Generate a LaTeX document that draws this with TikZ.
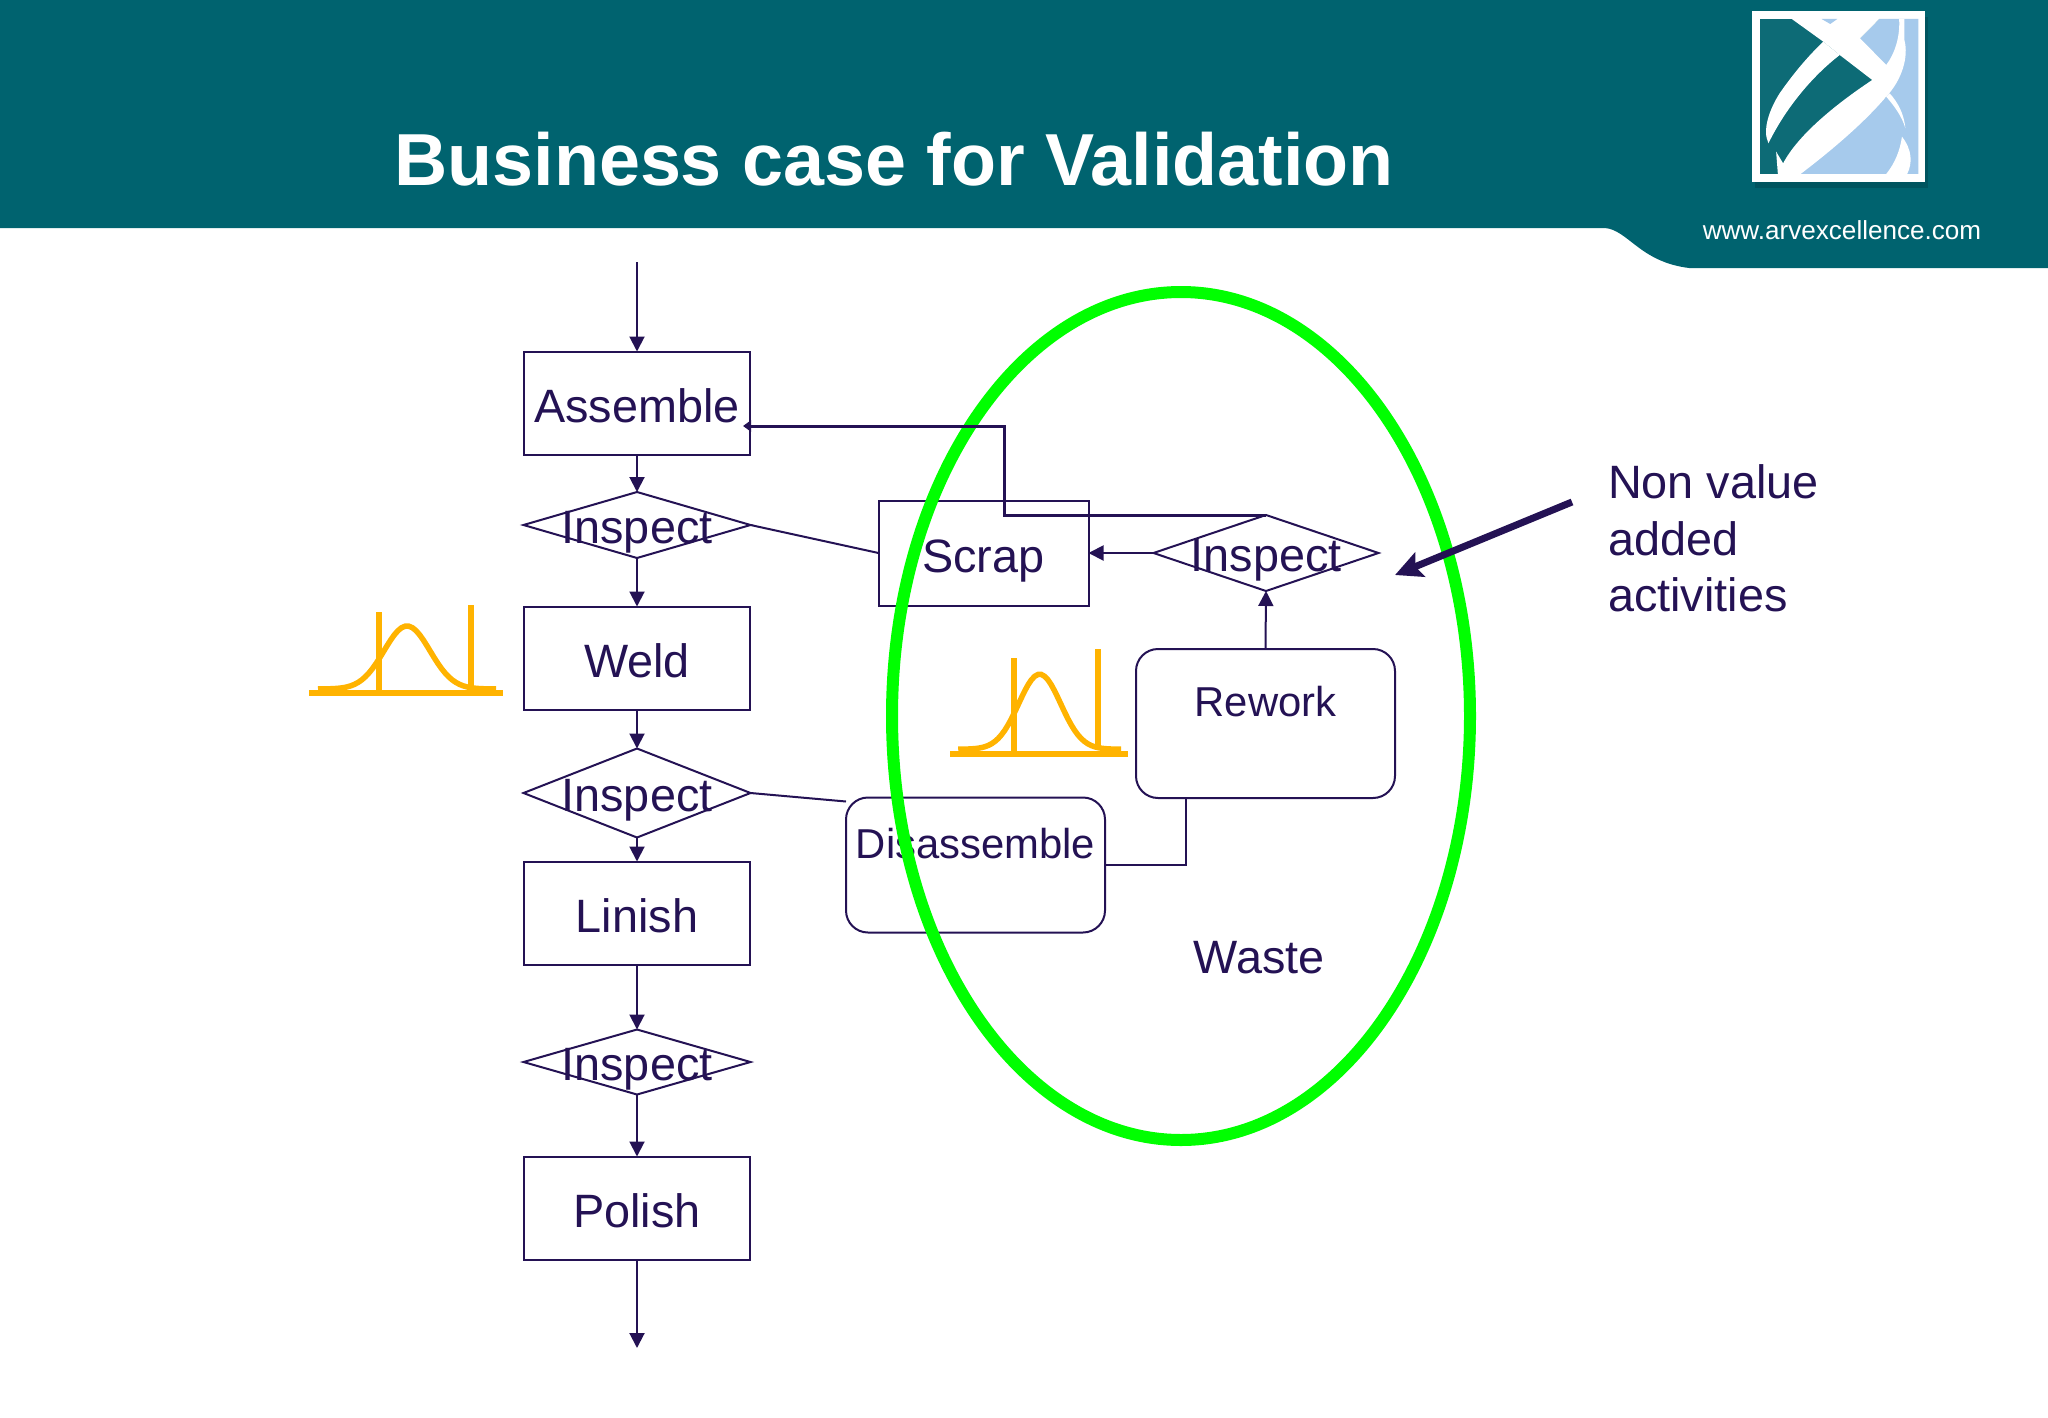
\documentclass[tikz,border=0pt]{standalone}
\usepackage{fontspec}
\setmainfont{Liberation Sans}
\usetikzlibrary{arrows.meta,shapes.geometric}

\definecolor{flowink}{RGB}{36,18,84}
\definecolor{banner}{RGB}{0,99,111}
\definecolor{bandshadow}{RGB}{0,84,95}
\definecolor{logoblue}{RGB}{166,202,236}
\definecolor{limitorange}{RGB}{255,179,0}
\definecolor{wastegreen}{RGB}{0,255,0}

\def\colx{637}
\def\flowfont{\fontsize{46.8}{56.5}\selectfont}
\def\sidefont{\fontsize{41.8}{50}\selectfont}

\begin{document}
\begin{tikzpicture}[x=1pt,y=-1pt,line width=2pt,draw=flowink]
    \tikzstyle{process}=[rectangle,draw=flowink,minimum width=226pt,minimum height=103pt,inner sep=0pt,outer sep=0pt,font=\flowfont,text=flowink,text height=38pt,text depth=0pt]
    \tikzstyle{decision}=[diamond,draw=flowink,minimum width=227pt,inner sep=0pt,outer sep=0pt]
    \tikzstyle{rounded box}=[rectangle,rounded corners=22pt,draw=flowink,inner sep=0pt,outer sep=0pt]
    \tikzstyle{annot}=[font=\flowfont,text=flowink,inner sep=0pt]
    \tikzstyle{side annot}=[font=\sidefont,text=flowink,inner sep=0pt]
    \tikzstyle{flow}=[draw=flowink,-{Triangle[length=15pt,width=15pt]}]
    \tikzstyle{plain flow}=[draw=flowink]
    \tikzstyle{limit}=[draw=limitorange,line width=6pt]
    \tikzstyle{bell}=[draw=limitorange,line width=5.5pt]

    \useasboundingbox (0,0) rectangle (2048,1418);

    % Banner
    \fill[banner] (0,0) -- (0,228) -- (1605,228)
        .. controls (1628,230) and (1640,262) .. (1689,268) -- (2048,268) -- (2048,0) -- cycle;
    \node[font=\bfseries\fontsize{73.7}{80}\selectfont,text=white,inner sep=0pt] (title) at (894,159) {Business case for Validation};
    \node[font=\fontsize{26.1}{30}\selectfont,text=white,inner sep=0pt] (site) at (1842,230) {www.arvexcellence.com};

    % Logo, in units of its own
    \begin{scope}[shift={(1500,0)},xscale=0.3495,yscale=0.3333]
        \fill[bandshadow] (730,50) rectangle (1224,565);
        \fill[white] (722,32) rectangle (1216,545);
        \fill[banner!95!white] (745,57) rectangle (1197,522);
        \fill[logoblue] (1030,115) -- (1085,57) -- (1197,57) -- (1197,522) -- (850,522) -- (1105,290) -- cycle;
        % crossing band
        \fill[white] (835,57) -- (1085,57) -- (1030,115) -- (1110,200) -- (1105,290) -- (1065,240) -- (972,165) -- (925,125) -- cycle;
        \fill[logoblue] (920,57) -- (965,57) -- (945,72) -- cycle;
        % left swoosh
        \fill[white] (925,125) .. controls (880,170) and (840,220) .. (800,280)
            .. controls (770,330) and (750,390) .. (768,430)
            .. controls (810,340) and (880,240) .. (972,165) -- cycle;
        % long swoosh and right stripe
        \fill[white] (1065,240) .. controls (950,320) and (850,410) .. (810,490) -- (790,455) -- (795,522) -- (860,522)
            .. controls (950,450) and (1040,370) .. (1105,290)
            .. controls (1150,240) and (1170,170) .. (1157,120) -- (1157,57) -- (1142,57)
            .. controls (1145,110) and (1130,160) .. (1105,195) -- cycle;
        \fill[white] (1105,290) .. controls (1130,320) and (1150,350) .. (1160,385)
            .. controls (1155,340) and (1140,310) .. (1115,280) -- cycle;
        \fill[white] (1150,410) .. controls (1180,450) and (1180,490) .. (1165,522) -- (1105,522)
            .. controls (1130,490) and (1145,450) .. (1150,410) -- cycle;
    \end{scope}

    % Nodes the green ring runs across
    \node[process,minimum width=210pt,minimum height=105pt] (scrap) at (983.5,553) {Scrap};
    \node[rounded box,minimum width=259pt,minimum height=135pt,label={[side annot,yshift=21pt]center:Disassemble}] (disassemble) at (975.5,865) {};

    % Waste ring
    \draw[wastegreen,line width=12pt] (1181,716) ellipse (289 and 424);

    % Main line
    \foreach \name / \txt / \y in {assemble/Assemble/403,weld/Weld/658,linish/Linish/913,polish/Polish/1208}
        \node[process] (\name) at (\colx,\y) {\txt};

    % Inspection diamonds
    \foreach \name / \x / \y / \h / \w in {I-1/637/525/66/227,I-2/637/793/89/227,I-3/637/1062/65/227,I-4/1266/553/76/225}
        \node[decision,minimum height=\h pt,minimum width=\w pt,label={[annot,yshift=-7pt]center:Inspect}] (\name) at (\x,\y) {};

    \node[rounded box,minimum width=259pt,minimum height=149pt,label={[side annot,yshift=22pt]center:Rework}] (rework) at (1265.5,723.5) {};
    \node[annot] (waste) at (1259,958) {Waste};
    \node[annot,anchor=north west,align=left] (nonvalue) at (1607,464) {Non value\\added\\activities};

    % Connect the main line
    \coordinate (line in) at (\colx,262);
    \coordinate (line out) at (\colx,1348);
    \foreach \source / \dest in {line in/assemble,assemble/I-1,I-1/weld,weld/I-2,I-2/linish,linish/I-3,I-3/polish,polish/line out}
        \draw[flow] (\source) -- (\dest);

    % Side branches
    \draw[plain flow] (I-1.east) -- (scrap.west);
    \draw[plain flow] (I-2.east) -- ([yshift=-4pt]disassemble.north west);
    \draw[plain flow] (disassemble.east) -| ([xshift=-80pt]rework.south);
    \draw[flow] (rework.north) -- (I-4.south);
    \draw[flow] (I-4.west) -- (scrap.east);

    % Return to Assemble
    \coordinate (back) at (1004,426);
    \coordinate (back tip) at (743,426);
    \draw[draw=flowink,line width=3pt,-{Triangle[length=8pt,width=11pt]}] (I-4.north) -| (back) -- (back tip);

    % Arrow from the note
    \coordinate (note tail) at (1572,502);
    \coordinate (note tip) at (1395,575);
    \draw[draw=flowink,line width=7pt,-{Stealth[length=27pt,width=26pt,inset=5pt]}] (note tail) -- (note tip);

    % Capability curves
    \foreach \bx / \by / \sx / \sy in {309/693/1/1,950/754/0.915/1.19} {
        \begin{scope}[shift={(\bx,\by)},xscale=\sx,yscale=\sy]
            \draw[limit] (0,0) -- (194,0);
            \draw[limit] (70,0) -- (70,-81);
            \draw[limit] (162,-5) -- (162,-88);
            \draw[bell] plot[domain=-89:89,samples=50] ({98+\x},{-4-63*exp(-0.5*(\x/23)*(\x/23))});
        \end{scope}
    }
\end{tikzpicture}
\end{document}
